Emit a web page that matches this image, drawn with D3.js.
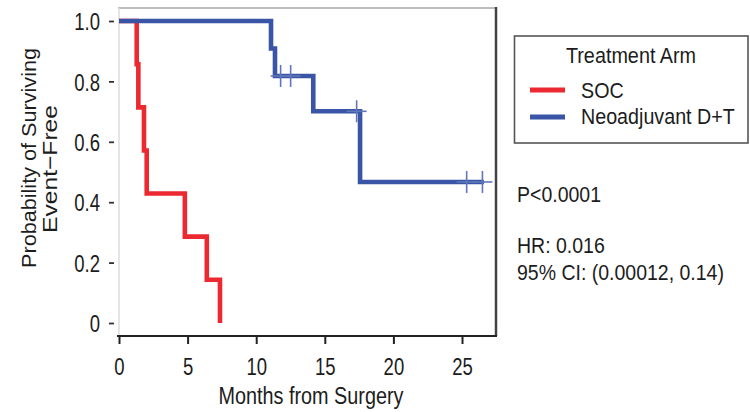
<!DOCTYPE html>
<html>
<head>
<meta charset="utf-8">
<script src="https://cdn.jsdelivr.net/npm/d3@7"></script>
<style>
  html, body { margin: 0; padding: 0; background: #fff; }
  svg { display: block; font-family: "Liberation Sans", Arial, sans-serif; }
</style>
</head>
<body>
<svg id="chart" width="750" height="412"></svg>
<script>
// ---- data ----
const socTimes   = [0, 1.29, 1.41, 1.82, 2.02, 4.8, 6.4, 7.36];
const socSurv    = [1, 0.857, 0.714, 0.571, 0.429, 0.286, 0.143, 0];
const neoTimes   = [0, 11.08, 11.37, 14.16, 17.57, 26.6];
const neoSurv    = [1, 0.909, 0.818, 0.701, 0.467, 0.467];
const neoCensorT = [11.78, 12.51, 17.32, 25.34, 26.49];
const neoCensorS = [0.818, 0.818, 0.701, 0.467, 0.467];
const xTicks = [0, 5, 10, 15, 20, 25];
const yTicks = [0, 0.2, 0.4, 0.6, 0.8, 1.0];
const yTickLabels = ["0", "0.2", "0.4", "0.6", "0.8", "1.0"];
const seriesNames = ["SOC", "Neoadjuvant D+T"];
const seriesColors = ["#ec2830", "#3a55a5"];
const legendTitle = "Treatment Arm";
const xTitle = "Months from Surgery";
const yTitleLines = ["Probability of Surviving", "Event\u2212Free"];
const statLines = ["P<0.0001", "HR: 0.016", "95% CI: (0.00012, 0.14)"];

const svg = d3.select("#chart");
const x = d3.scaleLinear().domain([0, 25]).range([119, 462]);
const y = d3.scaleLinear().domain([0, 1]).range([323, 21]);
const frameTop = 8, frameBottom = 336, frameLeft = 119, frameRight = 496;
const textColor = "#1c1c1c";

// frame
svg.append("line").attr("x1", frameLeft - 1).attr("x2", frameRight).attr("y1", frameTop).attr("y2", frameTop)
  .attr("stroke", "#bdbdbd").attr("stroke-width", 2);
svg.append("line").attr("x1", frameLeft).attr("x2", frameLeft).attr("y1", frameTop).attr("y2", frameBottom)
  .attr("stroke", "#dcdcdc").attr("stroke-width", 1.5);
svg.append("line").attr("x1", frameRight).attr("x2", frameRight).attr("y1", frameTop - 1).attr("y2", frameBottom)
  .attr("stroke", "#444").attr("stroke-width", 2.5);

// x axis
const xAxis = svg.append("g").attr("transform", `translate(0,${frameBottom})`)
  .call(d3.axisBottom(x).tickValues(xTicks).tickSize(8).tickFormat(d3.format("d")));
xAxis.select(".domain").remove();
xAxis.selectAll(".tick line").attr("stroke", "#222").attr("stroke-width", 2);
xAxis.selectAll(".tick text").attr("y", 0).attr("dy", 0)
  .attr("transform", "translate(0,39) scale(1,1.3)")
  .attr("font-size", "18.5px").attr("fill", textColor).attr("font-family", "Liberation Sans, Arial, sans-serif");
svg.append("line").attr("x1", frameLeft - 2).attr("x2", frameRight + 1).attr("y1", frameBottom).attr("y2", frameBottom)
  .attr("stroke", "#222").attr("stroke-width", 2);

// y axis
const yAxis = svg.append("g").attr("transform", "translate(114,0)")
  .call(d3.axisLeft(y).tickValues(yTicks).tickSize(5).tickPadding(9)
    .tickFormat((d, i) => yTickLabels[i]));
yAxis.select(".domain").remove();
yAxis.selectAll(".tick line").attr("stroke", "#333").attr("stroke-width", 1.8);
yAxis.selectAll(".tick text").attr("dy", "0.36em")
  .attr("transform", "scale(1,1.3)")
  .attr("font-size", "18.5px").attr("fill", textColor).attr("font-family", "Liberation Sans, Arial, sans-serif");

// axis titles
svg.append("text").attr("transform", "translate(311,404) scale(1,1.25)")
  .attr("text-anchor", "middle").attr("font-size", "19.8px").attr("fill", textColor).text(xTitle);
svg.append("text").attr("transform", "translate(36,158) rotate(-90)")
  .attr("text-anchor", "middle").attr("font-size", "21px").attr("fill", textColor)
  .attr("textLength", 220).attr("lengthAdjust", "spacingAndGlyphs").text(yTitleLines[0]);
svg.append("text").attr("transform", "translate(57,169) rotate(-90)")
  .attr("text-anchor", "middle").attr("font-size", "21px").attr("fill", textColor)
  .attr("textLength", 128).attr("lengthAdjust", "spacingAndGlyphs").text(yTitleLines[1]);

// curves
const line = d3.line().curve(d3.curveStepAfter).x(d => x(d[0])).y(d => y(d[1]));
const socData = socTimes.map((t, i) => [t, socSurv[i]]);
const neoData = neoTimes.map((t, i) => [t, neoSurv[i]]);
svg.append("path").attr("d", line(socData)).attr("fill", "none")
  .attr("stroke", seriesColors[0]).attr("stroke-width", 4.6).attr("stroke-linejoin", "miter");
svg.append("path").attr("d", line(neoData)).attr("fill", "none")
  .attr("stroke", seriesColors[1]).attr("stroke-width", 4.6).attr("stroke-linejoin", "miter");

// censor marks
const cens = svg.append("g").attr("stroke", "#5f76bb").attr("stroke-width", 1.6).attr("fill", "none");
neoCensorT.forEach((t, i) => {
  const cx = x(t), cy = y(neoCensorS[i]);
  cens.append("line").attr("x1", cx).attr("x2", cx).attr("y1", cy - 11).attr("y2", cy + 11);
  cens.append("line").attr("x1", cx - 10).attr("x2", cx + 10).attr("y1", cy).attr("y2", cy);
});

// legend
const lg = svg.append("g");
lg.append("rect").attr("x", 514.5).attr("y", 36).attr("width", 233.5).attr("height", 107)
  .attr("fill", "#fff").attr("stroke", "#555").attr("stroke-width", 1.6);
lg.append("text").attr("transform", "translate(631,63) scale(1,1.15)")
  .attr("text-anchor", "middle").attr("font-size", "19.8px").attr("fill", textColor).text(legendTitle);
const legY = [90, 117], legBase = [98, 123.5];
seriesNames.forEach((name, i) => {
  lg.append("line").attr("x1", 530).attr("x2", 565).attr("y1", legY[i]).attr("y2", legY[i])
    .attr("stroke", seriesColors[i]).attr("stroke-width", 5);
  lg.append("text").attr("transform", `translate(581,${legBase[i]}) scale(1,1.15)`)
    .attr("font-size", "19.7px").attr("fill", textColor).text(name);
});

// stats
const statBase = [202, 253, 280];
statLines.forEach((s, i) => {
  svg.append("text").attr("transform", `translate(517,${statBase[i]}) scale(1,1.12)`)
    .attr("font-size", "19.5px").attr("fill", textColor).text(s);
});
</script>
</body>
</html>
